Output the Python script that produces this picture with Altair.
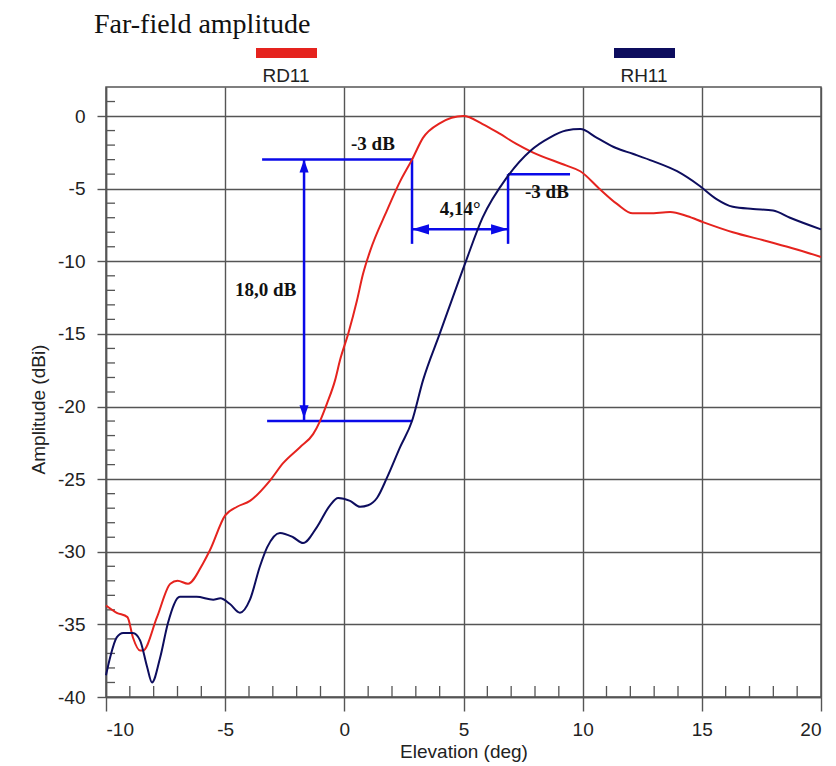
import altair as alt
import pandas as pd

# ---------------- data ----------------
SERIES = ["RD11", "RH11"]
COLORS = ["#e5231e", "#0d0d5e"]

RD11_X = [-10, -9.55, -9.1, -8.87, -8.57, -8.45, -7.86, -7.3, -7.0, -6.56, -5.93,
          -5.64, -5.0, -4.5, -3.96, -3.12, -2.57, -1.86, -1.31, -1.02, -0.73,
          -0.39, -0.18, 0.16, 0.53, 0.78, 1.08, 1.79, 2.34, 2.84, 3.3, 4.0, 5.0,
          5.8, 6.5, 7.2, 7.9, 9.3, 9.9, 10.7, 11.44, 12.1, 12.8, 13.67, 14.4,
          15.05, 16.3, 17.7, 18.8, 20]
RD11_Y = [-33.7, -34.2, -34.5, -35.9, -36.8, -36.8, -34.5, -32.2, -32.0, -32.2, -30.8,
          -29.9, -27.5, -26.9, -26.5, -25.1, -23.9, -22.8, -21.9, -21.0, -19.8,
          -18.2, -16.8, -15.0, -12.7, -10.9, -9.3, -6.5, -4.5, -3.0, -1.5, -0.5, 0.0,
          -0.55, -1.2, -1.9, -2.5, -3.4, -3.8, -5.0, -6.05, -6.7, -6.7, -6.6, -6.9,
          -7.3, -8.0, -8.6, -9.1, -9.7]

RH11_X = [-10, -9.83, -9.55, -9.28, -8.87, -8.57, -8.28, -8.07, -7.73, -7.4, -6.9,
          -6.2, -5.5, -5.2, -4.8, -4.38, -3.96, -3.54, -3.24, -2.7, -2.15, -1.73,
          -1.15, -0.6, -0.26, 0.24, 0.66, 1.0, 1.37, 1.79, 2.34, 2.84, 3.3, 4.0,
          5.1, 5.8, 6.83, 7.8, 8.6, 9.3, 9.9, 10.6, 11.4, 12.1, 12.95, 13.96,
          14.9, 15.6, 16.3, 17.15, 17.99, 18.7, 20]
RH11_Y = [-38.5, -37.3, -35.9, -35.6, -35.6, -36.1, -37.9, -39.0, -37.3, -34.9, -33.1,
          -33.1, -33.3, -33.2, -33.6, -34.2, -33.3, -31.0, -29.7, -28.7, -29.0, -29.4,
          -28.3, -26.8, -26.3, -26.5, -26.9, -26.8, -26.3, -24.9, -22.8, -21.0, -18.2, -15.0,
          -10.0, -7.0, -4.2, -2.4, -1.5, -1.0, -0.9, -1.5, -2.2, -2.6, -3.1, -3.8,
          -4.8, -5.7, -6.25, -6.4, -6.5, -7.0, -7.8]

X_TICKS = [-10, -5, 0, 5, 10, 15, 20]
Y_TICKS = [-40, -35, -30, -25, -20, -15, -10, -5, 0]
X_MINOR = [v for v in range(-9, 20) if v % 5]
Y_MINOR = [v for v in range(-39, 2) if v % 5]

# annotation segments
SEG_X = [-3.45, 2.84, 6.87, 6.87, 2.84, -1.69, -3.24]
SEG_X2 = [2.84, 2.84, 9.47, 6.87, 6.87, -1.69, 2.84]
SEG_Y = [-3, -3, -4, -4, -7.8, -3, -21]
SEG_Y2 = [-3, -8.8, -4, -8.8, -7.8, -21, -21]

ARROW_X = [-1.69, -1.69, 2.84, 6.87]
ARROW_Y = [-3, -20.8, -7.8, -7.8]
ARROW_DIR = ["up", "down", "left", "right"]

LABELS = ["-3 dB", "-3 dB", "4,14°", "18,0 dB"]
LABEL_X = [1.2, 8.5, 4.86, -3.3]
LABEL_Y = [-1.9, -5.2, -6.4, -12.0]

TITLE = "Far-field amplitude"

# ---------------- tables ----------------
curves = pd.concat([
    pd.DataFrame({"x": RD11_X, "y": RD11_Y, "series": SERIES[0]}),
    pd.DataFrame({"x": RH11_X, "y": RH11_Y, "series": SERIES[1]}),
], ignore_index=True)
segs = pd.DataFrame({"x": SEG_X, "x2": SEG_X2, "y": SEG_Y, "y2": SEG_Y2})
arrows = pd.DataFrame({"x": ARROW_X, "y": ARROW_Y, "dir": ARROW_DIR})
labels = pd.DataFrame({"x": LABEL_X, "y": LABEL_Y, "label": LABELS})
xminor = pd.DataFrame({"x": X_MINOR})
yminor = pd.DataFrame({"y": Y_MINOR})

W, H = 715, 610
ANN = "#0a0ae8"
GRID = "#555555"
SANS = "Liberation Sans"
SERIF = "Liberation Serif"

X = alt.X("x:Q", scale=alt.Scale(domain=[-10, 20], nice=False, zero=False),
          axis=alt.Axis(values=X_TICKS, title="Elevation (deg)", grid=True,
                        tickSize=14, labelPadding=9, titlePadding=3,
                        labelExpr="'' + datum.value"))
Y = alt.Y("y:Q", scale=alt.Scale(domain=[-40, 2], nice=False, zero=False),
          axis=alt.Axis(values=Y_TICKS, title="Amplitude (dBi)", grid=True,
                        tickSize=9, labelPadding=12, titlePadding=9,
                        titleY=322, labelExpr="'' + datum.value"))

minor_x = alt.Chart(xminor).mark_rule(color=GRID, strokeWidth=1.3).encode(
    x=X, y=alt.value(H - 11), y2=alt.value(H))
minor_y = alt.Chart(yminor).mark_rule(color=GRID, strokeWidth=1.3).encode(
    y=Y, x=alt.value(0), x2=alt.value(9))

seg_layer = alt.Chart(segs).mark_rule(color=ANN, strokeWidth=2.5).encode(
    x=X, x2="x2:Q", y=Y, y2="y2:Q")

PATHS = {
    "up": ("M0,0L-0.35,1L0.35,1Z", 676),
    "down": ("M0,0L-0.35,-1L0.35,-1Z", 676),
    "left": ("M0,0L1,-0.3L1,0.3Z", 1156),
    "right": ("M0,0L-1,-0.3L-1,0.3Z", 1156),
}
arrow_layers = []
for d in ARROW_DIR:
    path, size = PATHS[d]
    arrow_layers.append(
        alt.Chart(arrows).transform_filter(alt.datum.dir == d)
        .mark_point(shape=path, size=size, filled=True, color=ANN, opacity=1,
                    strokeWidth=0)
        .encode(x=X, y=Y))

text_layer = alt.Chart(labels).mark_text(
    font=SERIF, fontSize=19, fontWeight="bold", color="#111111",
    align="center", baseline="middle").encode(x=X, y=Y, text="label:N")

lines = alt.Chart(curves).mark_line(strokeWidth=2, interpolate="monotone").encode(
    x=X, y=Y,
    color=alt.Color("series:N", scale=alt.Scale(domain=SERIES, range=COLORS),
                    legend=None),
    detail="series:N")

one = alt.Data(values=[{"k": 1}])
title_layer = alt.Chart(one).mark_text(
    text=TITLE, font=SERIF, fontSize=28, align="left", baseline="alphabetic",
    color="#111111").encode(x=alt.value(-12), y=alt.value(-54))

legend_layers = []
for name, col, cx in zip(SERIES, COLORS, [180, 538]):
    legend_layers.append(
        alt.Chart(one).mark_rect(color=col).encode(
            x=alt.value(cx - 30), x2=alt.value(cx + 31),
            y=alt.value(-39), y2=alt.value(-29)))
    legend_layers.append(
        alt.Chart(one).mark_text(text=name, font=SANS, fontSize=19,
                                 align="center", baseline="alphabetic",
                                 color="#222222").encode(
            x=alt.value(cx), y=alt.value(-5)))

chart = alt.layer(
    minor_x, minor_y, seg_layer, *arrow_layers, text_layer, lines,
    title_layer, *legend_layers
).properties(
    width=W, height=H, autosize="none",
    padding={"left": 98, "top": 79, "right": 7, "bottom": 69},
    background="white",
).configure_view(
    stroke=GRID, strokeWidth=1.5
).configure_axis(
    gridColor=GRID, gridWidth=1.4, gridOpacity=1,
    domainColor=GRID, domainWidth=1.5, tickColor=GRID, tickWidth=1.4,
    labelFont=SANS, labelFontSize=19, labelColor="#222222",
    titleFont=SANS, titleFontSize=19, titleFontWeight="normal",
    titleColor="#222222",
)

chart.save("out.html", embed_options={"renderer": "svg", "actions": False})
